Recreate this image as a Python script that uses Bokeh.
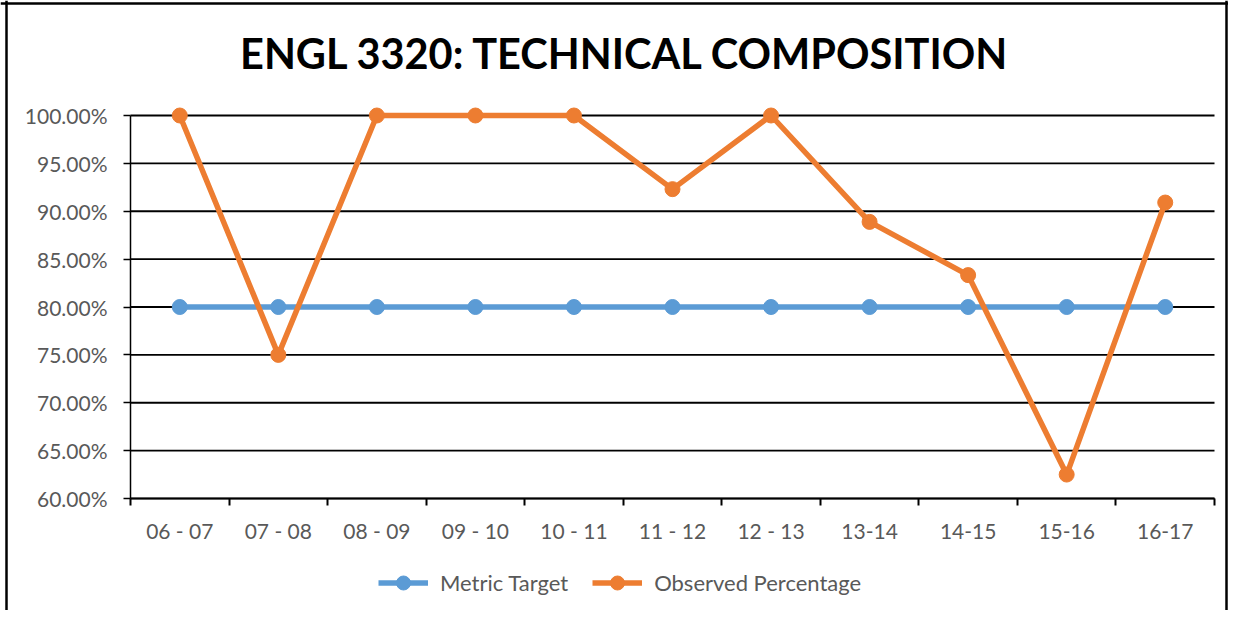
from bokeh.plotting import figure
from bokeh.models import (FixedTicker, PrintfTickFormatter, Legend, LegendItem,
                          Span, Range1d, Label)
from bokeh.embed import file_html
from bokeh.resources import INLINE

categories = ["06 - 07", "07 - 08", "08 - 09", "09 - 10", "10 - 11", "11 - 12",
              "12 - 13", "13-14", "14-15", "15-16", "16-17"]
metric_target = [80.0, 80.0, 80.0, 80.0, 80.0, 80.0, 80.0, 80.0, 80.0, 80.0, 80.0]
observed = [100.0, 75.0, 100.0, 100.0, 100.0, 92.31, 100.0, 88.89, 83.33, 62.5, 90.91]
y_ticks = [60, 65, 70, 75, 80, 85, 90, 95, 100]
title_text = "ENGL 3320: TECHNICAL COMPOSITION"

BLUE = "#5B9BD5"
ORANGE = "#ED7D31"
GREY = "#595959"
FONT = "Lato"

W, H = 1228, 610
# pixel layout of the plot area inside the canvas
PX_LEFT, PX_RIGHT, PX_TOP, PX_BOTTOM = 130, 1214, 115, 498

n = len(categories)
y_lo, y_hi = y_ticks[0], y_ticks[-1]
x = [i + 0.5 for i in range(n)]
bounds = list(range(n + 1))

xs = (PX_RIGHT - PX_LEFT) / n
ys = (PX_BOTTOM - PX_TOP) / (y_hi - y_lo)
x_range = Range1d(-PX_LEFT / xs, n + (W - PX_RIGHT) / xs)
y_range = Range1d(y_lo - (H - PX_BOTTOM) / ys, y_hi + PX_TOP / ys)

p = figure(width=W, height=H, x_range=x_range, y_range=y_range,
           output_backend="svg", toolbar_location=None,
           min_border=0, min_border_left=0, min_border_right=0,
           min_border_top=0, min_border_bottom=0,
           background_fill_color="white", border_fill_color="white")
p.outline_line_color = None
p.title.visible = False
p.xgrid.visible = False
p.ygrid.visible = False

# horizontal gridlines, limited to the category span
p.segment(x0=[0] * len(y_ticks), x1=[n] * len(y_ticks), y0=y_ticks, y1=y_ticks,
          line_color="black", line_width=1.8)

# y axis
p.yaxis.fixed_location = 0
p.yaxis.ticker = FixedTicker(ticks=y_ticks)
p.yaxis.formatter = PrintfTickFormatter(format="%.2f%%")
p.yaxis.bounds = (y_lo, y_hi)
p.yaxis.axis_line_color = "black"
p.yaxis.axis_line_width = 1.5
p.yaxis.major_tick_out = 7
p.yaxis.major_tick_in = 0
p.yaxis.major_tick_line_color = "black"
p.yaxis.major_tick_line_width = 1.5
p.yaxis.minor_tick_line_color = None
p.yaxis.major_label_text_font = FONT
p.yaxis.major_label_text_font_size = "21px"
p.yaxis.major_label_text_color = GREY
p.yaxis.major_label_standoff = 16

# x axis
p.xaxis.fixed_location = y_lo
p.xaxis.bounds = (0, n)
p.xaxis.ticker = FixedTicker(ticks=x, minor_ticks=bounds)
p.xaxis.major_label_overrides = {xv: c for xv, c in zip(x, categories)}
p.xaxis.axis_line_color = "black"
p.xaxis.axis_line_width = 1.5
p.xaxis.major_tick_line_color = None
p.xaxis.minor_tick_line_color = "black"
p.xaxis.minor_tick_line_width = 2
p.xaxis.minor_tick_out = 7
p.xaxis.minor_tick_in = 0
p.xaxis.major_label_text_font = FONT
p.xaxis.major_label_text_font_size = "21px"
p.xaxis.major_label_text_color = GREY
p.xaxis.major_label_standoff = 12

bl = p.line(x, metric_target, line_color=BLUE, line_width=5.5)
bs = p.scatter(x, metric_target, size=15, fill_color=BLUE, line_color=BLUE)
ol = p.line(x, observed, line_color=ORANGE, line_width=5.5)
os_ = p.scatter(x, observed, size=15, fill_color=ORANGE, line_color=ORANGE)

legend = Legend(items=[LegendItem(label="Metric Target", renderers=[bl, bs]),
                       LegendItem(label="Observed Percentage", renderers=[ol, os_])],
                orientation="horizontal", location=(378, 10),
                border_line_color=None, background_fill_alpha=0,
                label_text_font=FONT, label_text_font_size="22px",
                label_text_color=GREY, glyph_width=50, glyph_height=35,
                spacing=24, label_standoff=12, padding=0, margin=0)
p.add_layout(legend, "center")

title = Label(x=625, y=52, x_units="canvas", y_units="canvas", text=title_text,
              text_align="center", text_baseline="alphabetic",
              text_font=FONT, text_font_style="bold", text_font_size="41.5px",
              text_color="black")
p.add_layout(title)

# outer chart-area border (left, right, top)
for loc, dim in [(6, "height"), (W - 2, "height"), (3, "width")]:
    p.add_layout(Span(location=loc, location_units="canvas", dimension=dim,
                      line_color="black", line_width=2.5))

open("out.html", "w").write(file_html(p, INLINE))
